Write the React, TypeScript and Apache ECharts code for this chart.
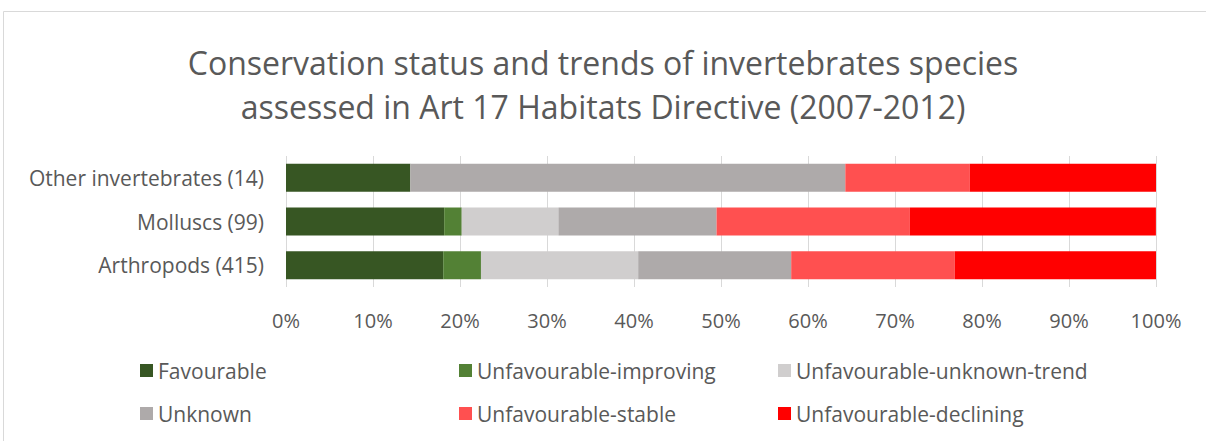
import React, { useEffect, useRef } from "react";
import * as echarts from "echarts";

const categories = ["Arthropods (415)", "Molluscs (99)", "Other invertebrates (14)"];
const seriesNames = [
  "Favourable",
  "Unfavourable-improving",
  "Unfavourable-unknown-trend",
  "Unknown",
  "Unfavourable-stable",
  "Unfavourable-declining",
];
const seriesColors = ["#375623", "#538135", "#D0CECE", "#AEAAAA", "#FF5050", "#FF0000"];
// percentages per category (Arthropods, Molluscs, Other invertebrates)
const favourable = [18.07, 18.18, 14.29];
const improving = [4.34, 2.02, 0];
const unknownTrend = [18.07, 11.11, 0];
const unknown = [17.59, 18.18, 50.0];
const stable = [18.8, 22.22, 14.29];
const declining = [23.13, 28.28, 21.43];
const seriesValues = [favourable, improving, unknownTrend, unknown, stable, declining];
const xTicks = [0, 10, 20, 30, 40, 50, 60, 70, 80, 90, 100];

const legendPos = [
  { left: 140, top: 360 },
  { left: 459, top: 360 },
  { left: 778, top: 360 },
  { left: 140, top: 403 },
  { left: 459, top: 403 },
  { left: 778, top: 403 },
];

const FONT = "'Open Sans', 'Noto Sans', sans-serif";
const TXT = "#595959";

export default function App() {
  const ref = useRef<HTMLDivElement>(null);
  useEffect(() => {
    document.body.style.margin = "0";
    const chart = echarts.init(ref.current!, null, { renderer: "svg" });
    chart.setOption({
      animation: false,
      textStyle: { fontFamily: FONT },
      title: {
        text: "Conservation status and trends of invertebrates species\nassessed in Art 17 Habitats Directive (2007-2012)",
        left: "center",
        top: 35,
        textStyle: {
          fontFamily: FONT,
          fontSize: 32,
          fontWeight: "normal",
          color: TXT,
          lineHeight: 44,
        },
      },
      graphic: [
        {
          type: "rect",
          shape: { x: 3.5, y: 11.5, width: 1220, height: 460 },
          style: { fill: "none", stroke: "#d9d9d9", lineWidth: 1 },
          silent: true,
        },
      ],
      legend: legendPos.map((p, i) => ({
        data: [seriesNames[i]],
        left: p.left,
        top: p.top,
        itemWidth: 13,
        itemHeight: 13,
        icon: "rect",
        textStyle: { fontSize: 21, color: TXT, fontFamily: FONT },
        padding: 0,
      })),
      grid: { left: 286, right: 50, top: 156, height: 131, containLabel: false },
      xAxis: {
        type: "value",
        min: 0,
        max: 100,
        interval: 10,
        axisLine: { show: false },
        axisTick: { show: false },
        splitLine: { lineStyle: { color: "#d9d9d9", width: 1 } },
        axisLabel: {
          formatter: (v: number) => (xTicks.includes(v) ? v + "%" : ""),
          fontSize: 20,
          color: TXT,
          margin: 23,
          fontFamily: FONT,
        },
      },
      yAxis: {
        type: "category",
        data: categories,
        axisLine: { show: false },
        axisTick: { show: false },
        axisLabel: { fontSize: 21, color: TXT, margin: 22, fontFamily: FONT },
      },
      series: seriesNames.map((name, i) => ({
        name,
        type: "bar",
        stack: "total",
        barWidth: 28,
        itemStyle: { color: seriesColors[i] },
        data: seriesValues[i],
      })),
    });
    return () => chart.dispose();
  }, []);
  return <div ref={ref} style={{ width: 1206, height: 441 }} />;
}
